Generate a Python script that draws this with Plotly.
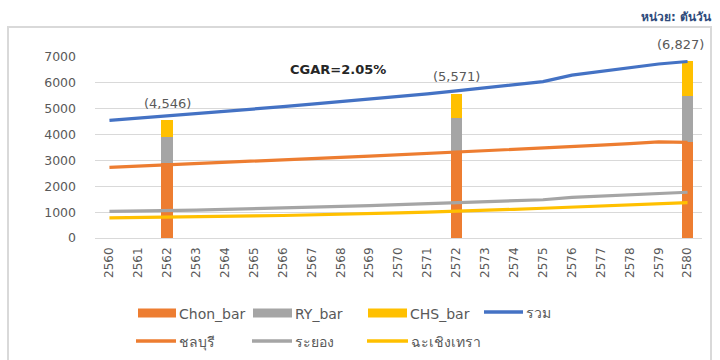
import plotly.graph_objects as go

# Years (Thai Buddhist Era)
years = [str(y) for y in range(2560, 2581)]

# Demand by province (tons/day)
chonburi = [2735, 2785, 2850, 2890, 2935, 2975, 3030, 3070, 3120, 3165, 3215,
            3260, 3310, 3365, 3420, 3470, 3530, 3590, 3650, 3715, 3700]
rayong = [1030, 1040, 1055, 1080, 1105, 1130, 1160, 1190, 1220, 1250, 1290,
          1330, 1365, 1400, 1440, 1480, 1570, 1620, 1665, 1720, 1770]
chachoengsao = [775, 785, 800, 815, 835, 855, 870, 890, 915, 940, 970,
                1000, 1030, 1070, 1110, 1150, 1190, 1230, 1275, 1320, 1365]
total = [4546, 4630, 4720, 4810, 4900, 4990, 5080, 5175, 5270, 5370, 5470,
         5575, 5690, 5805, 5925, 6050, 6300, 6445, 6590, 6730, 6827]

# Stacked milestone bars
bar_years = ["2562", "2572", "2580"]
chon_bar = [2885, 3350, 3700]
ry_bar = [1005, 1300, 1775]
chs_bar = [656, 921, 1352]

cgar_text = "CGAR=2.05%"
unit_text = "หน่วย: ตันวัน"

ORANGE = "#ED7D31"
GRAY = "#A5A5A5"
YELLOW = "#FFC000"
BLUE = "#4472C4"
TEXT = "#595959"
FONT = "DejaVu Sans"

W, H = 720, 360
ML, MR, MT, MB = 95, 18, 57, 122
PW, PH = W - ML - MR, H - MT - MB


def px(x):
    return (x - ML) / PW


def py(y):
    return (H - MB - y) / PH


fig = go.Figure()

for name, vals, col in [("Chon_bar", chon_bar, ORANGE),
                        ("RY_bar", ry_bar, GRAY),
                        ("CHS_bar", chs_bar, YELLOW)]:
    fig.add_trace(go.Bar(x=bar_years, y=vals, name=name, marker_color=col,
                         marker_line_width=0, width=0.4, showlegend=False))

for name, vals, col in [("รวม", total, BLUE),
                        ("ชลบุรี", chonburi, ORANGE),
                        ("ระยอง", rayong, GRAY),
                        ("ฉะเชิงเทรา", chachoengsao, YELLOW)]:
    fig.add_trace(go.Scatter(x=years, y=vals, name=name, mode="lines",
                             line=dict(color=col, width=3.2), showlegend=False))

# Totals above the milestone bars
bar_totals = [a + b + c for a, b, c in zip(chon_bar, ry_bar, chs_bar)]
for i, (yr, tot) in enumerate(zip(bar_years, bar_totals)):
    fig.add_annotation(x=years.index(yr), y=tot, text=f"({tot:,})",
                       showarrow=False, yanchor="middle",
                       yshift=17, xshift=-7 if i == 2 else 0,
                       font=dict(family=FONT, size=13, color=TEXT))

fig.add_annotation(x=px(338), y=py(69), xref="paper", yref="paper",
                   text=f"<b>{cgar_text}</b>", showarrow=False,
                   yanchor="middle",
                   font=dict(family=FONT, size=13, color="#262626"))

fig.add_annotation(x=px(714), y=py(17), xref="paper", yref="paper",
                   text=f"<b>{unit_text}</b>", showarrow=False, xanchor="right",
                   yanchor="middle",
                   font=dict(family=FONT, size=12, color="#2F4B7C"))

shapes = []
# Outer chart frame
shapes.append(dict(type="rect", xref="paper", yref="paper",
                   x0=px(8), x1=px(711), y0=py(365), y1=py(27),
                   line=dict(color="#D9D9D9", width=2), layer="below"))

# Legend
legend_items = [
    ("box", ORANGE, 138, 176, 313, "Chon_bar"),
    ("box", GRAY, 253, 292, 313, "RY_bar"),
    ("box", YELLOW, 368, 407, 313, "CHS_bar"),
    ("line", BLUE, 484, 523, 312, "รวม"),
    ("line", ORANGE, 136, 176, 341, "ชลบุรี"),
    ("line", GRAY, 252, 292, 341, "ระยอง"),
    ("line", YELLOW, 367, 408, 341, "ฉะเชิงเทรา"),
]
for kind, col, x0, x1, yc, label in legend_items:
    if kind == "box":
        shapes.append(dict(type="rect", xref="paper", yref="paper",
                           x0=px(x0), x1=px(x1), y0=py(yc + 4.5), y1=py(yc - 4.5),
                           fillcolor=col, line=dict(width=0)))
    else:
        shapes.append(dict(type="line", xref="paper", yref="paper",
                           x0=px(x0), x1=px(x1), y0=py(yc), y1=py(yc),
                           line=dict(color=col, width=3.5)))
    fig.add_annotation(x=px(x1 + 1), y=py(yc + 1), xref="paper", yref="paper",
                       text=label, showarrow=False, xanchor="left",
                       yanchor="middle",
                       font=dict(family=FONT, size=14, color=TEXT))

fig.update_layout(
    width=W, height=H,
    margin=dict(l=ML, r=MR, t=MT, b=MB),
    paper_bgcolor="white", plot_bgcolor="white",
    barmode="stack", showlegend=False,
    shapes=shapes,
    font=dict(family=FONT, size=13, color=TEXT),
)
fig.update_xaxes(type="category", categoryorder="array", categoryarray=years,
                 range=[-0.5, 20.5], tickangle=-90, showgrid=False,
                 showline=False, zeroline=False, ticks="",
                 ticklabelstandoff=6,
                 tickfont=dict(family=FONT, size=12, color=TEXT))
fig.update_yaxes(range=[0, 7000], dtick=1000, showgrid=True,
                 gridcolor="#D9D9D9", gridwidth=1, zeroline=True,
                 zerolinecolor="#D9D9D9", zerolinewidth=1,
                 showline=False, ticks="", ticklabelstandoff=18,
                 tickfont=dict(family=FONT, size=12.5, color=TEXT))

fig.write_html("out.html")
